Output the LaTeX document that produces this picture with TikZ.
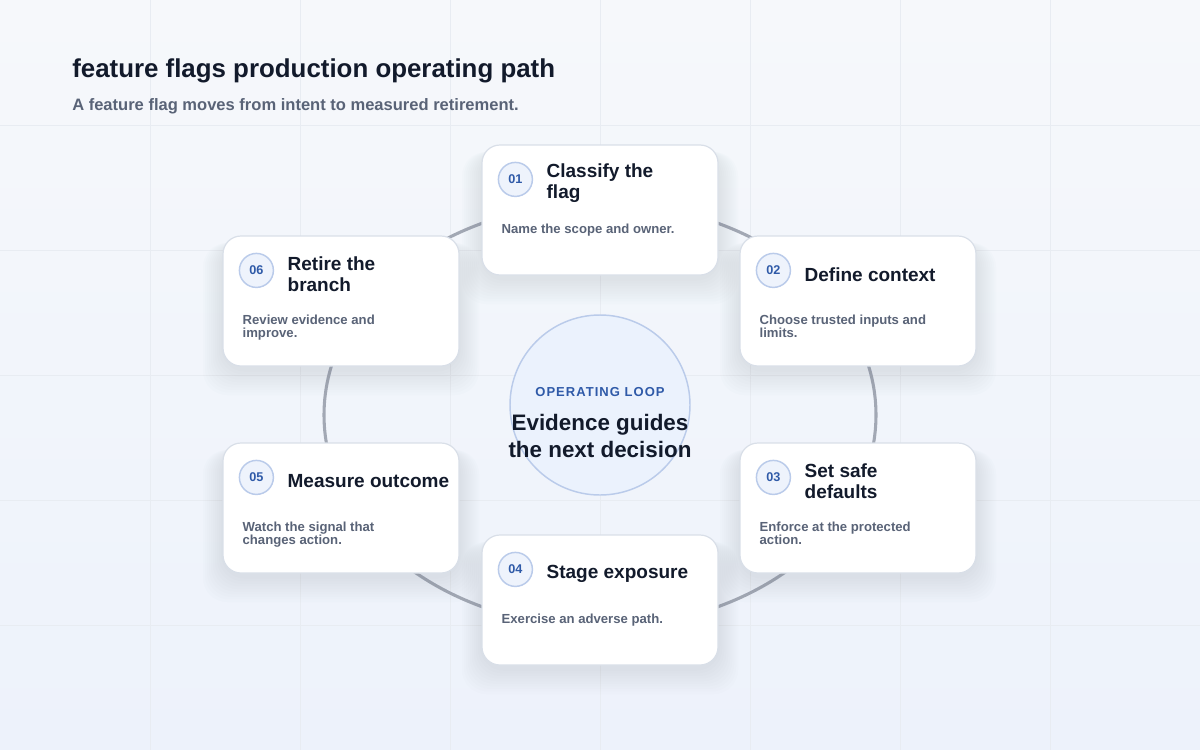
\documentclass[tikz,border=0pt]{standalone}
\usepackage{fontspec}
\setmainfont{Liberation Sans}
\usetikzlibrary{positioning,calc}
\definecolor{ink}{HTML}{121A2B}
\definecolor{slate}{HTML}{596377}
\definecolor{loopblue}{HTML}{2F5AA8}
\definecolor{badgefill}{HTML}{EEF3FC}
\definecolor{badgeline}{HTML}{BACBEA}
\definecolor{hubfill}{HTML}{EBF2FD}
\definecolor{cardline}{HTML}{D9DFE8}
\definecolor{ringgray}{HTML}{A2A8B4}
\definecolor{gridc}{HTML}{E8ECF2}
\definecolor{bgtop}{HTML}{F6F8FB}
\definecolor{bgbot}{HTML}{EDF2FB}
\definecolor{shadowc}{HTML}{6F7D99}
\tikzset{
	flagcard/.style={rectangle, draw=cardline, line width=0.9pt, fill=white, rounded corners=13.5pt,
		minimum width=177pt, minimum height=97.5pt, inner sep=0pt},
	numbadge/.style={circle, draw=badgeline, line width=1.1pt, fill=badgefill, minimum size=25.5pt,
		inner sep=0pt, text=loopblue, font=\fontsize{9.5}{10}\selectfont\bfseries},
	cardhead/.style={anchor=west, align=left, inner sep=0pt, text=ink,
		font=\fontsize{14.25}{15.75}\selectfont\bfseries},
	cardnote/.style={anchor=north west, align=left, inner sep=0pt, text=slate,
		font=\fontsize{9.85}{10}\selectfont\bfseries},
	gridline/.style={draw=gridc, line width=0.6pt},
	loopring/.style={draw=ringgray, line width=2.3pt}
}
\begin{document}
\begin{tikzpicture}[x=0.75pt, y=-0.75pt]
	% page and faint grid
	\fill[top color=bgtop, bottom color=bgbot] (0,0) rectangle (1200,750);
	\useasboundingbox (0,0) rectangle (1200,750);
	\foreach \gx in {150,300,...,1050} \draw[gridline] (\gx,0) -- (\gx,750);
	\foreach \gy in {125,250,...,625} \draw[gridline] (0,\gy) -- (1200,\gy);

	\node[anchor=base west, inner sep=0pt, text=ink, font=\fontsize{19.4}{22}\selectfont\bfseries]
		(heading) at (72,77) {feature flags production operating path};
	\node[anchor=base west, inner sep=0pt, text=slate, font=\fontsize{12.4}{14}\selectfont\bfseries]
		(subhead) at (72,110) {A feature flag moves from intent to measured retirement.};

	% the loop
	\draw[loopring] (600,415) ellipse[x radius=276, y radius=212];
	\node[circle, draw=badgeline, line width=1.1pt, fill=hubfill, minimum size=135pt] (hub) at (600,405) {};
	\node[text=loopblue, font=\fontsize{9.75}{10}\selectfont\bfseries\addfontfeatures{LetterSpace=8}]
		(looptag) at (600,392) {OPERATING LOOP};
	\node[align=center, text=ink, font=\fontsize{16.8}{20.25}\selectfont\bfseries]
		(loopmsg) at (600,436) {Evidence guides\\the next decision};

	% six steps
	\foreach \id/\cx/\cy/\head/\note in {
		01/600/210/{Classify the\\flag}/{Name the scope and owner.},
		02/858/301/{Define context}/{Choose trusted inputs and\\limits.},
		03/858/508/{Set safe\\defaults}/{Enforce at the protected\\action.},
		04/600/600/{Stage exposure}/{Exercise an adverse path.},
		05/341/508/{Measure outcome}/{Watch the signal that\\changes action.},
		06/341/301/{Retire the\\branch}/{Review evidence and\\improve.}}{
		\foreach \k in {1,...,10}
			\fill[shadowc, opacity=0.016, rounded corners=18pt]
				({\cx-118-2*\k},{\cy-58}) rectangle ({\cx+118+2*\k},{\cy+68+2.6*\k});
		\node[flagcard] (c\id) at (\cx,\cy) {};
		\node[numbadge] (b\id) at ($(c\id.north west)+(34,35)$) {\id};
		\node[cardhead] (h\id) at ($(c\id.north west)+(65,39)$) {\head};
		\node[cardnote] (n\id) at ($(c\id.north west)+(20,79)$) {\note};
	}
\end{tikzpicture}
\end{document}
